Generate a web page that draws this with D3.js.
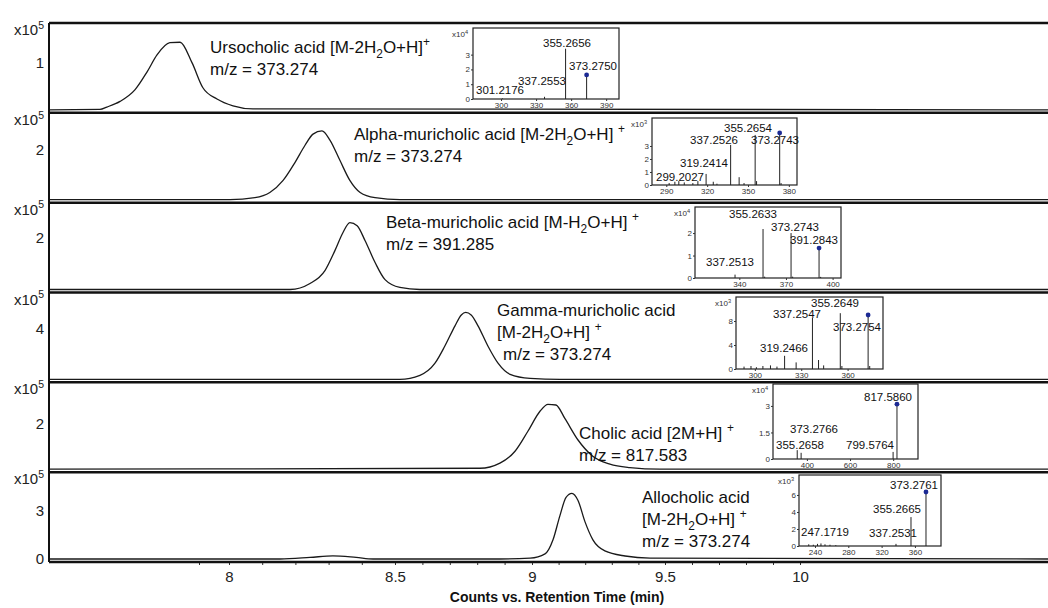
<!DOCTYPE html>
<html>
<head>
<meta charset="utf-8">
<script src="https://cdn.jsdelivr.net/npm/d3@7"></script>
<style>
  body { margin: 0; background: #fff; }
  svg { display: block; font-family: "Liberation Sans", Arial, sans-serif; }
  text { white-space: pre; }
</style>
</head>
<body>
<div id="chart"></div>
<script>
// retention time axis (the original figure is a montage, so the axis is not quite uniform)
const timeTicks = [8, 8.5, 9, 9.5, 10];
const timeTickLabels = ["8", "8.5", "9", "9.5", "10"];
const axisBreaks = [7.4, 8, 8.5, 9, 9.5, 10, 10.9];
const axisBreakPx = [49, 229, 395, 532, 665, 800, 1048];

// one panel per compound
const compoundNames = ["Ursocholic acid", "Alpha-muricholic acid", "Beta-muricholic acid",
  "Gamma-muricholic acid", "Cholic acid", "Allocholic acid"];
const adducts = ["[M-2H_2O+H]^+", "[M-2H_2O+H] ^+", "[M-H_2O+H] ^+",
  "[M-2H_2O+H] ^+", "[2M+H] ^+", "[M-2H_2O+H] ^+"];
const mzValues = ["373.274", "373.274", "391.285", "373.274", "817.583", "373.274"];
const panelTicks = [[1], [2], [2], [4], [2], [0, 3]];
const panelMax = [1.85, 3.51, 3.35, 6.88, 3.87, 5.48];

// chromatograms: retention time (min) and counts (x10^5)
const ursoTime = [7.4, 7.57, 7.593, 7.637, 7.687, 7.727, 7.76, 7.803, 7.837, 7.877, 7.913, 7.96, 8.012, 8.072, 10.9];
const ursoCounts = [0, 0.01, 0.06, 0.18, 0.43, 0.81, 1.17, 1.43, 1.44, 1.0, 0.47, 0.23, 0.085, 0.02, 0];
const alphaTime = [7.4, 8.003, 8.078, 8.123, 8.163, 8.199, 8.229, 8.253, 8.28, 8.304, 8.334, 8.364, 8.395, 8.44, 8.518, 10.9];
const alphaCounts = [0, 0, 0.08, 0.29, 0.78, 1.51, 2.2, 2.65, 2.78, 2.41, 1.59, 0.78, 0.29, 0.08, 0, 0];
const betaTime = [7.4, 8.184, 8.244, 8.289, 8.319, 8.343, 8.364, 8.386, 8.41, 8.44, 8.47, 8.518, 8.591, 10.9];
const betaCounts = [0, 0, 0.23, 0.73, 1.5, 2.19, 2.58, 2.46, 1.88, 1.04, 0.38, 0.08, 0, 0];
const gammaTime = [7.4, 8.518, 8.591, 8.646, 8.682, 8.719, 8.742, 8.758, 8.778, 8.803, 8.839, 8.876, 8.92, 8.993, 9.105, 10.9];
const gammaCounts = [0, 0, 0.32, 1.28, 2.64, 4.24, 5.1, 5.3, 5.1, 4.24, 2.64, 1.28, 0.4, 0.08, 0, 0];
const cholicTime = [7.4, 8.81, 8.883, 8.938, 8.985, 9.03, 9.06, 9.09, 9.124, 9.173, 9.226, 9.293, 9.368, 9.481, 10.9];
const cholicCounts = [0, 0.04, 0.27, 0.8, 1.69, 2.58, 2.89, 2.86, 2.25, 1.3, 0.6, 0.22, 0.07, 0, 0];
const alloTime = [7.4, 8.154, 8.244, 8.313, 8.383, 8.434, 8.883, 8.993, 9.049, 9.079, 9.105, 9.128, 9.15, 9.173, 9.199, 9.229, 9.274, 9.35, 9.444, 10.9];
const alloCounts = [0, 0, 0.1, 0.2, 0.1, 0, 0, 0.05, 0.32, 1.21, 2.74, 3.89, 4.14, 3.69, 2.36, 1.21, 0.51, 0.19, 0.06, 0];

const chromTimes = [ursoTime, alphaTime, betaTime, gammaTime, cholicTime, alloTime];
const chromCounts = [ursoCounts, alphaCounts, betaCounts, gammaCounts, cholicCounts, alloCounts];

// MS/MS insets: m/z, intensity, labelled peaks
const ursoMz = [301.2176, 337.2553, 355.2656, 373.2750];
const ursoInt = [0.04, 0.15, 3.4, 1.63];
const alphaMz = [292.1, 296.3, 299.2027, 303.2, 309.5, 313.2, 319.2414, 324.5, 327.2, 337.2526, 343.5, 347.1, 355.2654, 356.3, 373.2743, 374.3];
const alphaInt = [0.15, 0.25, 0.3, 0.2, 0.15, 0.3, 0.85, 0.25, 0.1, 3.08, 0.6, 0.15, 3.85, 0.3, 4.0, 0.15];
const betaMz = [337.2513, 355.2633, 356.3, 373.2743, 374.3, 391.2843, 392.3];
const betaInt = [0.15, 2.18, 0.06, 2.0, 0.06, 1.33, 0.05];
const gammaMz = [293, 297.5, 301, 305.2, 310.1, 314.3, 319.2466, 326.7, 337.2547, 341.2, 344.5, 355.2649, 356.3, 373.2754, 374.3];
const gammaInt = [0.4, 0.5, 0.3, 0.5, 0.6, 0.4, 2.2, 1.1, 8.5, 1.5, 0.6, 9.3, 0.5, 9.0, 0.5];
const cholicMz = [355.2658, 373.2766, 799.5764, 817.5860];
const cholicInt = [0.5, 0.35, 0.4, 3.1];
const alloMz = [232.5, 238, 243, 247.1719, 252, 258, 265, 337.2531, 355.2665, 373.2761];
const alloInt = [0.2, 0.15, 0.25, 0.3, 0.2, 0.15, 0.1, 0.25, 3.4, 6.35];

const specMz = [ursoMz, alphaMz, betaMz, gammaMz, cholicMz, alloMz];
const specInt = [ursoInt, alphaInt, betaInt, gammaInt, cholicInt, alloInt];
const labelledMz = [
  ["301.2176", "337.2553", "355.2656", "373.2750"],
  ["299.2027", "319.2414", "337.2526", "355.2654", "373.2743"],
  ["337.2513", "355.2633", "373.2743", "391.2843"],
  ["319.2466", "337.2547", "355.2649", "373.2754"],
  ["355.2658", "373.2766", "799.5764", "817.5860"],
  ["247.1719", "337.2531", "355.2665", "373.2761"]
];
const precursorMz = [373.2750, 373.2743, 391.2843, 373.2754, 817.5860, 373.2761];
const specExp = ["4", "3", "4", "3", "4", "3"];
const specMzDomain = [[276, 401], [279.5, 386], [311.5, 405.4], [287.8, 382.9], [243, 915], [220.8, 391.3]];
const specIntMax = [4.8, 5.15, 3.16, 12, 4.24, 8.35];
const specMzTicks = [[300, 330, 360, 390], [290, 320, 350, 380], [340, 370, 400], [300, 330, 360], [400, 600, 800], [240, 280, 320, 360]];
const specIntTicks = [[0, 1, 2, 3], [0, 1, 2, 3], [0, 1, 2], [0, 4, 8], [0, 1.5, 3], [0, 2, 4, 6]];

// layout of the texts and insets
const nameX = [210, 354, 386, 497, 579, 642];
const nameY = [53, 140, 228, 316, 439, 503];
const insetBox = [[473, 28, 146, 71], [652, 118, 145, 67], [695, 207, 146, 71],
  [736, 297, 147, 72], [773, 384, 145, 75], [799, 475, 142, 71]];
const labelPos = [
  [[27, 62], [69, 53], [94, 15], [120, 38]],
  [[28, 59], [52, 45], [62, 22], [96, 10], [123, 22]],
  [[35, 55], [58, 7], [100, 20], [119, 33]],
  [[48, 51], [61, 17], [99, 6], [121, 30]],
  [[27, 61], [41, 45], [97, 61], [115, 13]],
  [[26, 57], [94, 58], [98, 34], [115, 10]]
];

const W = 1048, H = 608;
const plotLeft = 49, plotTop = 23, plotBottom = 562;

const svg = d3.select("#chart").append("svg")
  .attr("width", W)
  .attr("height", H);

// text with _x subscripts and ^x superscripts
function richText(sel, str, size) {
  const parts = str.split(/([_^].)/).filter(s => s.length);
  let shift = 0;
  parts.forEach(p => {
    let kind = 0, txt = p;
    if (p[0] === "_") { kind = 1; txt = p[1]; }
    else if (p[0] === "^") { kind = -1; txt = p[1]; }
    const target = kind > 0 ? size * 0.3 : (kind < 0 ? -size * 0.42 : 0);
    sel.append("tspan")
      .attr("dy", target - shift)
      .attr("font-size", kind ? size * 0.7 : size)
      .text(txt);
    shift = target;
  });
}

const x = d3.scaleLinear().domain(axisBreaks).range(axisBreakPx);
const band = d3.scaleBand().domain(d3.range(compoundNames.length)).range([plotTop, plotBottom]);

compoundNames.forEach((name, i) => {
  const top = band(i), bottom = top + band.bandwidth();
  const y = d3.scaleLinear().domain([0, panelMax[i]]).range([bottom - 3, top]);
  const g = svg.append("g");

  // chromatogram trace
  const pts = chromTimes[i].map((t, k) => [t, chromCounts[i][k]]);
  g.append("path")
    .datum(pts)
    .attr("fill", "none")
    .attr("stroke", "#1a1a1a")
    .attr("stroke-width", 1.3)
    .attr("d", d3.line().x(d => x(d[0])).y(d => y(d[1])).curve(d3.curveMonotoneX));

  // panel top border
  g.append("line")
    .attr("x1", plotLeft).attr("x2", W)
    .attr("y1", top).attr("y2", top)
    .attr("stroke", "#111").attr("stroke-width", 2.5);

  // exponent and tick labels
  const ex = g.append("text").attr("x", 14).attr("y", top + 12).attr("fill", "#222");
  richText(ex, "x10^5", 15);
  g.selectAll(".ytick").data(panelTicks[i]).join("text")
    .attr("x", 44).attr("y", d => y(d) + 5)
    .attr("text-anchor", "end")
    .attr("font-size", 15)
    .attr("fill", "#222")
    .text(d => d);

  // compound label
  const lines = [];
  if (i === 3 || i === 5) {
    lines.push(name, adducts[i]);
  } else {
    lines.push(name + " " + adducts[i]);
  }
  lines.push("m/z = " + mzValues[i]);
  lines.forEach((ln, k) => {
    const t = g.append("text")
      .attr("x", nameX[i] + (i === 3 && k === 2 ? 6 : 0))
      .attr("y", nameY[i] + k * 22)
      .attr("fill", "#111");
    richText(t, ln, 17);
  });

  // MS/MS inset
  const [bx, by, bw, bh] = insetBox[i];
  const ig = svg.append("g").attr("transform", `translate(${bx},${by})`);
  const xs = d3.scaleLinear().domain(specMzDomain[i]).range([0, bw]);
  const ys = d3.scaleLinear().domain([0, specIntMax[i]]).range([bh, 0]);

  ig.append("rect")
    .attr("width", bw).attr("height", bh)
    .attr("fill", "#fff").attr("stroke", "#222").attr("stroke-width", 1.2);

  ig.selectAll(".bar").data(specMz[i]).join("line")
    .attr("x1", d => xs(d)).attr("x2", d => xs(d))
    .attr("y1", ys(0)).attr("y2", (d, k) => ys(specInt[i][k]))
    .attr("stroke", "#222").attr("stroke-width", 1);

  const pk = specMz[i].indexOf(precursorMz[i]);
  ig.append("circle")
    .attr("cx", xs(precursorMz[i])).attr("cy", ys(specInt[i][pk]))
    .attr("r", 2.4).attr("fill", "#1c2a94");

  ig.selectAll(".plab").data(labelledMz[i]).join("text")
    .attr("x", (d, k) => labelPos[i][k][0])
    .attr("y", (d, k) => labelPos[i][k][1])
    .attr("dy", "0.35em")
    .attr("text-anchor", "middle")
    .attr("font-size", 11.5)
    .attr("fill", "#111")
    .text(d => d);

  const xa = ig.append("g").attr("transform", `translate(0,${bh})`)
    .call(d3.axisBottom(xs).tickValues(specMzTicks[i]).tickSize(2).tickPadding(1));
  const ya = ig.append("g")
    .call(d3.axisLeft(ys).tickValues(specIntTicks[i]).tickSize(2).tickPadding(1)
      .tickFormat(d3.format("~g")));
  [xa, ya].forEach(a => {
    a.select(".domain").remove();
    a.selectAll("text").attr("font-size", 8).attr("font-family", null).attr("fill", "#333");
    a.selectAll("line").attr("stroke", "#333");
  });

  const et = ig.append("text").attr("x", -21).attr("y", 9).attr("fill", "#333");
  richText(et, "x10^" + specExp[i], 8);
});

// left and bottom axis lines
svg.append("line")
  .attr("x1", plotLeft).attr("x2", plotLeft)
  .attr("y1", plotTop).attr("y2", plotBottom)
  .attr("stroke", "#111").attr("stroke-width", 2);

const xAxis = svg.append("g")
  .attr("transform", `translate(0,${plotBottom})`)
  .call(d3.axisBottom(x).tickValues(d3.range(79, 101).map(d => d / 10)).tickSize(3).tickFormat(""));
xAxis.select(".domain").remove();
xAxis.selectAll("line").attr("stroke", "#333");

const xLabels = svg.append("g")
  .attr("transform", `translate(0,${plotBottom})`)
  .call(d3.axisBottom(x).tickValues(timeTicks).tickSize(0).tickPadding(9)
    .tickFormat((d, i) => timeTickLabels[i]));
xLabels.select(".domain").remove();
xLabels.selectAll("text").attr("font-size", 15).attr("font-family", null).attr("fill", "#222");

svg.append("line")
  .attr("x1", plotLeft).attr("x2", W)
  .attr("y1", plotBottom).attr("y2", plotBottom)
  .attr("stroke", "#111").attr("stroke-width", 2.5);

svg.append("text")
  .attr("x", 557).attr("y", 602)
  .attr("text-anchor", "middle")
  .attr("font-size", 14)
  .attr("font-weight", "bold")
  .attr("fill", "#111")
  .text("Counts vs. Retention Time (min)");
</script>
</body>
</html>
